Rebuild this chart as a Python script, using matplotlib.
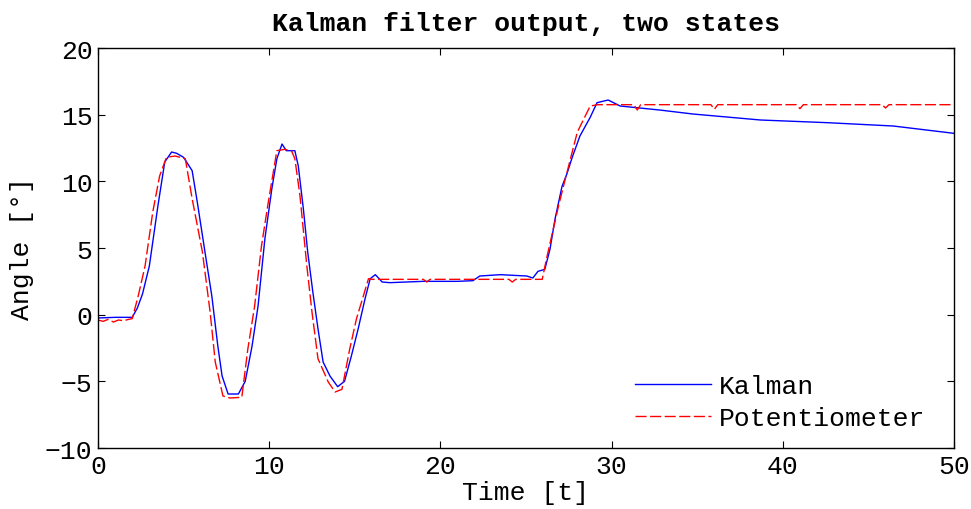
import matplotlib
matplotlib.use('Agg')
import matplotlib.pyplot as plt

# Kalman filter estimate (time, angle)
kal_t = [0, 1.0, 2.0, 2.3, 2.6, 3.0, 3.5, 3.9, 4.3, 4.6, 5.0, 5.3, 5.5, 5.8,
         6.25, 6.65, 7.0, 7.25, 7.6, 8.2, 8.6, 9.0, 9.35, 9.75, 10.15, 10.45,
         10.75, 11.0, 11.5, 11.7, 12.0, 12.25, 12.55, 12.85, 13.15, 13.55,
         14.0, 14.4, 14.8, 15.2, 15.6, 15.9, 16.2, 16.6, 17.05, 18.0, 19.0,
         20.0, 21.0, 21.9, 22.3, 23.5, 25.05, 25.4, 25.7, 26.1, 26.4, 26.7,
         27.1, 27.4, 27.7, 28.15, 28.75, 29.15, 29.8, 30.5, 32.8, 34.75,
         38.7, 42.6, 46.45, 50.0]
kal_v = [-0.25, -0.2, -0.2, 0.5, 1.55, 3.65, 8.15, 11.45, 12.2, 12.1, 11.8,
         11.2, 10.8, 8.45, 4.7, 1.4, -2.35, -4.6, -5.95, -5.95, -5.0, -2.35,
         0.65, 5.7, 9.4, 11.7, 12.8, 12.3, 12.3, 11.15, 7.9, 4.7, 1.7, -1.05,
         -3.55, -4.6, -5.4, -5.0, -3.1, -1.05, 1.2, 2.7, 3.0, 2.45, 2.4, 2.45,
         2.5, 2.5, 2.5, 2.55, 2.9, 3.0, 2.9, 2.75, 3.25, 3.4, 4.9, 7.2, 9.6,
         10.6, 11.8, 13.4, 14.8, 15.9, 16.1, 15.65, 15.35, 15.05, 14.6, 14.4,
         14.15, 13.6]

# Potentiometer measurement (time, angle)
pot_t = [0, 0.3, 0.6, 0.9, 1.2, 1.5, 1.8, 2.0, 2.35, 2.75, 3.2, 3.6, 4.0,
         4.5, 5.1, 5.5, 6.1, 6.55, 6.85, 7.3, 7.7, 8.4, 8.75, 9.15, 9.55,
         9.95, 10.45, 10.9, 11.3, 11.5, 11.8, 12.2, 12.5, 12.85, 13.45, 13.85,
         14.25, 14.7, 15.1, 15.5, 15.8, 16.0, 19.0, 19.2, 19.4, 24.0, 24.2,
         24.4, 25.95, 26.2, 26.5, 26.9, 27.3, 28.0, 28.75, 29.2, 31.3, 31.5,
         31.7, 35.8, 36.0, 36.2, 40.8, 41.0, 41.2, 45.8, 46.0, 46.2, 50.0]
pot_v = [-0.4, -0.5, -0.35, -0.55, -0.4, -0.45, -0.35, -0.3, 1.4, 3.65, 7.7,
         10.4, 11.8, 11.9, 11.7, 8.7, 4.7, 0.2, -3.55, -6.1, -6.25, -6.2,
         -2.6, 0.65, 5.15, 8.45, 12.3, 12.4, 12.3, 11.7, 8.9, 3.65, 0.2, -3.3,
         -5.05, -5.8, -5.6, -2.6, -0.3, 1.4, 2.7, 2.65, 2.65, 2.45, 2.65, 2.65,
         2.45, 2.65, 2.65, 4.2, 5.9, 8.15, 10.2, 13.7, 15.65, 15.75, 15.75,
         15.35, 15.75, 15.75, 15.4, 15.75, 15.75, 15.45, 15.75, 15.75, 15.5,
         15.75, 15.75]

font = 'Liberation Mono'
plt.rcParams['font.family'] = font
fs = 19

fig = plt.figure(figsize=(9.71, 5.10), dpi=100)
ax = fig.add_axes([0.1009, 0.1196, 0.8816, 0.7843])

ax.plot(kal_t, kal_v, color='#0000ff', lw=1.0, label='Kalman')
ax.plot(pot_t, pot_v, color='#ff0000', lw=1.0, dashes=(8, 2.5),
        label='Potentiometer')

ax.set_xlim(0, 50)
ax.set_ylim(-10, 20)
ax.set_xticks([0, 10, 20, 30, 40, 50])
ax.set_yticks([-10, -5, 0, 5, 10, 15, 20])
ax.tick_params(direction='in', top=True, right=True, length=5, width=0.8,
               labelsize=fs, pad=4)
for s in ax.spines.values():
    s.set_linewidth(1.0)

ax.set_title('Kalman filter output, two states', fontweight='bold',
             fontsize=fs, pad=13)
ax.set_xlabel('Time [t]', fontsize=fs, labelpad=2)
ax.set_ylabel('Angle [°]', fontsize=fs, labelpad=8)

leg = ax.legend(loc='lower right', frameon=False, fontsize=fs,
                handlelength=2.9, handletextpad=0.3, labelspacing=0.3,
                borderaxespad=0.2, bbox_to_anchor=(0.985, 0.005))

fig.savefig('out.png', dpi=100)
